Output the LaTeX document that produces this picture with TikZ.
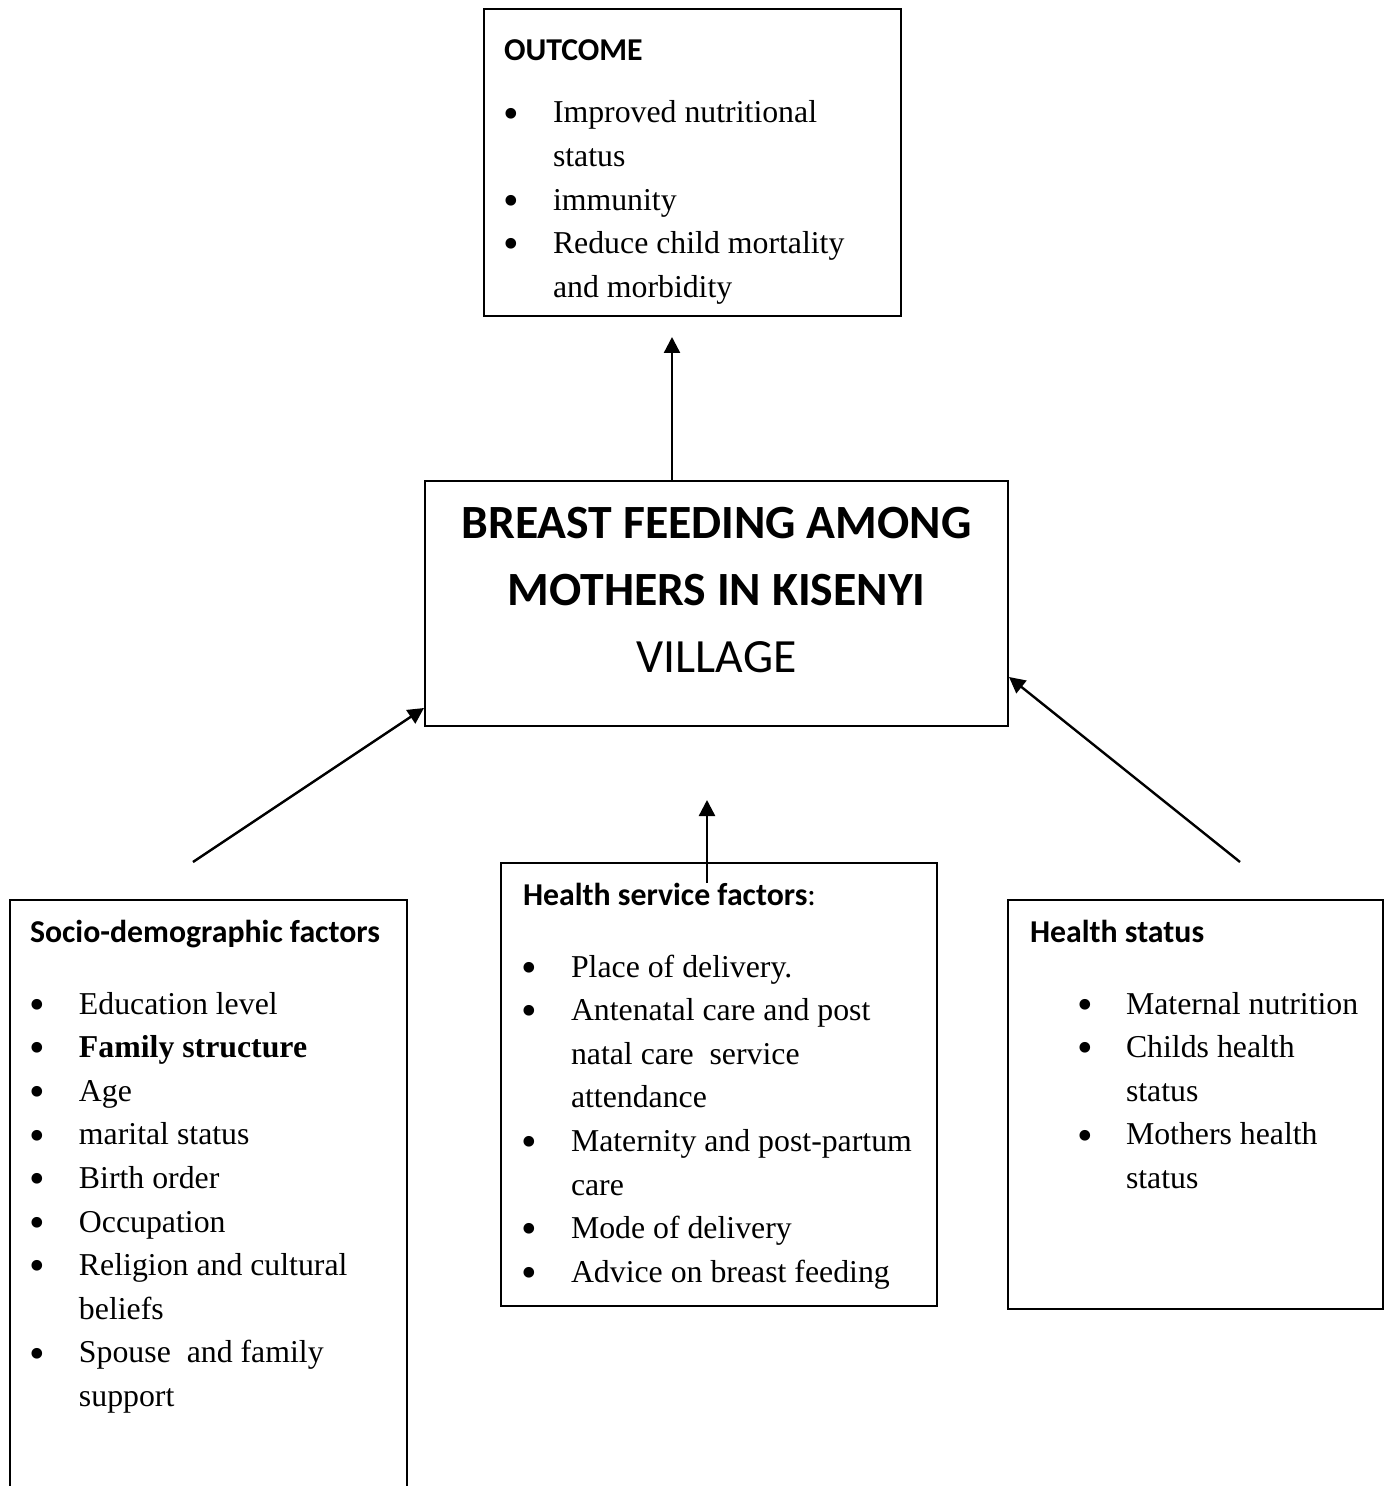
\documentclass[tikz,border=0pt]{standalone}
\usepackage{fontspec}
\usepackage{enumitem}
\usetikzlibrary{arrows.meta}
\setmainfont{Liberation Serif}
\newfontfamily\headfont{Carlito}
\newcommand{\bigbullet}{\raisebox{-2.6pt}{\scalebox{1.4}{\textbullet}}}
\setlist[itemize]{label=\bigbullet,leftmargin=24.5pt,labelsep=17pt,topsep=0pt,partopsep=0pt,parsep=0pt,itemsep=0pt}
\begin{document}
\begin{tikzpicture}[x=0.5pt,y=-0.5pt]
\tikzset{every node/.style={font=\fontsize{15.9}{21.8}\selectfont}}
\tikzset{factor/.style={draw,line width=1pt,anchor=north west,inner xsep=10pt,inner ysep=0pt}}
\tikzset{arr/.style={line width=1.2pt,-{Triangle[length=8pt,width=8pt]}}}
\clip (0,0) rectangle (1386,1486);
\node[factor] (outcome) at (483,8) {\parbox[t][153.5pt][t]{188.5pt}{\raggedright
  \rule{0pt}{26pt}{\headfont\bfseries OUTCOME}\par\vspace{9.2pt}
  \begin{itemize}
  \item Improved nutritional\newline status
  \item immunity
  \item Reduce child mortality\newline and morbidity
  \end{itemize}}};
\node[factor,inner xsep=0pt] (central) at (424,480) {\parbox[t][122.5pt][t]{291.5pt}{\centering
  \headfont\fontsize{23.85}{33.5}\selectfont
  \rule{0pt}{28.5pt}\textbf{BREAST FEEDING AMONG}\\
  \textbf{MOTHERS IN KISENYI}\\
  VILLAGE}};
\node[factor] (socio) at (9,899) {\parbox[t][300.5pt][t]{178.5pt}{\raggedright
  \rule{0pt}{21pt}{\headfont\bfseries Socio-demographic factors}\par\vspace{14.2pt}
  \begin{itemize}
  \item Education level
  \item \textbf{Family structure}
  \item Age
  \item marital status
  \item Birth order
  \item Occupation
  \item Religion and cultural\newline beliefs
  \item Spouse\ \ and family\newline support
  \end{itemize}}};
\node[factor,inner xsep=11pt] (hsf) at (500,862) {\parbox[t][221.5pt][t]{196pt}{\raggedright
  \rule{0pt}{21pt}{\headfont\bfseries Health service factors}{\headfont :}\par\vspace{14.2pt}
  \begin{itemize}[leftmargin=24pt]
  \item Place of delivery.
  \item Antenatal care and post\newline natal care\ \ service\newline attendance
  \item Maternity and post-partum\newline care
  \item Mode of delivery
  \item Advice on breast feeding
  \end{itemize}}};
\node[factor,inner xsep=11pt] (health) at (1007,899) {\parbox[t][204.5pt][t]{165.5pt}{\raggedright
  \rule{0pt}{21pt}{\headfont\bfseries Health status}\par\vspace{14.2pt}
  \begin{itemize}[leftmargin=48pt,labelsep=16.5pt]
  \item Maternal nutrition
  \item Childs health\newline status
  \item Mothers health\newline status
  \end{itemize}}};
\coordinate (upx) at (672,0);
\coordinate (sociotail) at (193,862);
\coordinate (healthtail) at (1240,862);
\coordinate (hsftail) at (707,883);
\coordinate (hsftip) at (707,800);
\draw[arr,shorten >=10pt] (central.north -| upx) -- (outcome.south -| upx);
\draw[arr] (sociotail) -- ([yshift=9.5pt]central.south west);
\draw[arr] (healthtail) -- ([yshift=25pt]central.south east);
\draw[arr] (hsftail) -- (hsftip);
\end{tikzpicture}
\end{document}
